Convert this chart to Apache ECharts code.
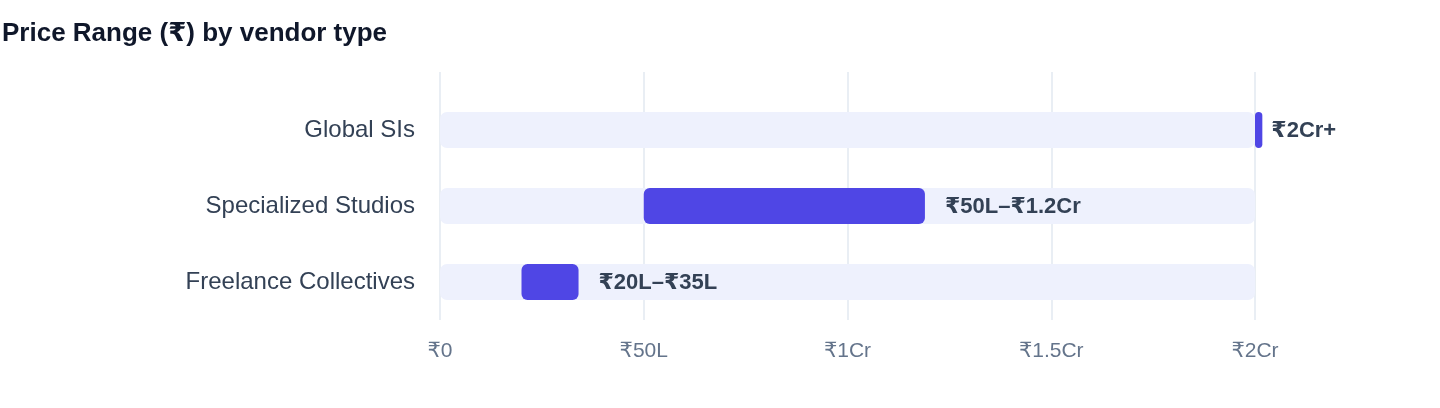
<!DOCTYPE html>
<html>
<head>
<meta charset="utf-8">
<title>Price Range by vendor type</title>
<script src="https://cdn.jsdelivr.net/npm/echarts@6/dist/echarts.min.js"></script>
<style>
  html, body { margin: 0; padding: 0; background: #fff; }
  #main { width: 1440px; height: 408px; }
</style>
</head>
<body>
<div id="main"></div>
<script>
// values in lakhs of rupees
var categories = ["Global SIs", "Specialized Studios", "Freelance Collectives"];
var rangeStart = [200, 50, 20];
var rangeEnd = [201.8, 119, 34];
var rangeLabels = ["₹2Cr+", "₹50L–₹1.2Cr", "₹20L–₹35L"];
var tickValues = [0, 50, 100, 150, 200];
var tickLabels = ["₹0", "₹50L", "₹1Cr", "₹1.5Cr", "₹2Cr"];

var font = '"Helvetica Neue", Helvetica, Arial, "Liberation Sans", "DejaVu Sans", sans-serif';

var myChart = echarts.init(document.getElementById('main'));

var spans = rangeEnd.map(function (v, i) {
    return {
        value: +(v - rangeStart[i]).toFixed(2),
        label: { distance: i === 0 ? 9 : 20 }
    };
});

var option = {
    textStyle: { fontFamily: font },
    title: {
        text: 'Price Range (₹) by vendor type',
        left: -3,
        top: 16,
        textStyle: { fontSize: 26, fontWeight: 'bold', color: '#0f172a', fontFamily: font }
    },
    grid: [
        { left: 440, right: 185, top: 72, bottom: 88 },   // axis + gridlines
        { left: 440, right: 185, top: 92, bottom: 88 }    // bars
    ],
    xAxis: [{
        gridIndex: 0,
        type: 'value',
        min: 0,
        max: 200,
        interval: 50,
        axisLine: { show: false },
        axisTick: { show: false },
        splitLine: { show: true, lineStyle: { color: '#e2e8f0', width: 1.5 } },
        axisLabel: {
            margin: 21,
            fontSize: 21,
            color: '#64748b',
            fontFamily: font,
            formatter: function (v) {
                var i = tickValues.indexOf(v);
                return i >= 0 ? tickLabels[i] : '';
            }
        }
    }, {
        gridIndex: 1,
        type: 'value',
        min: 0,
        max: 200,
        show: false
    }],
    yAxis: [{
        gridIndex: 0,
        type: 'value',
        show: false
    }, {
        gridIndex: 1,
        type: 'category',
        inverse: true,
        data: categories,
        axisLine: { show: false },
        axisTick: { show: false },
        splitLine: { show: false },
        axisLabel: { margin: 25, fontSize: 24, color: '#334155', fontFamily: font }
    }],
    series: [{
        name: 'base',
        type: 'bar',
        xAxisIndex: 1,
        yAxisIndex: 1,
        stack: 'range',
        barWidth: 36,
        silent: true,
        itemStyle: { color: 'transparent' },
        data: rangeStart
    }, {
        name: 'range',
        type: 'bar',
        xAxisIndex: 1,
        yAxisIndex: 1,
        stack: 'range',
        barWidth: 36,
        clip: false,
        showBackground: true,
        backgroundStyle: { color: '#eef1fd', borderRadius: 7 },
        itemStyle: { color: '#4f46e5', borderRadius: 6 },
        label: {
            show: true,
            position: 'right',
            offset: [0, 1],
            fontSize: 22,
            fontWeight: 'bold',
            color: '#334155',
            fontFamily: font,
            formatter: function (p) { return rangeLabels[p.dataIndex]; }
        },
        data: spans
    }]
};

myChart.setOption(option);
</script>
</body>
</html>
